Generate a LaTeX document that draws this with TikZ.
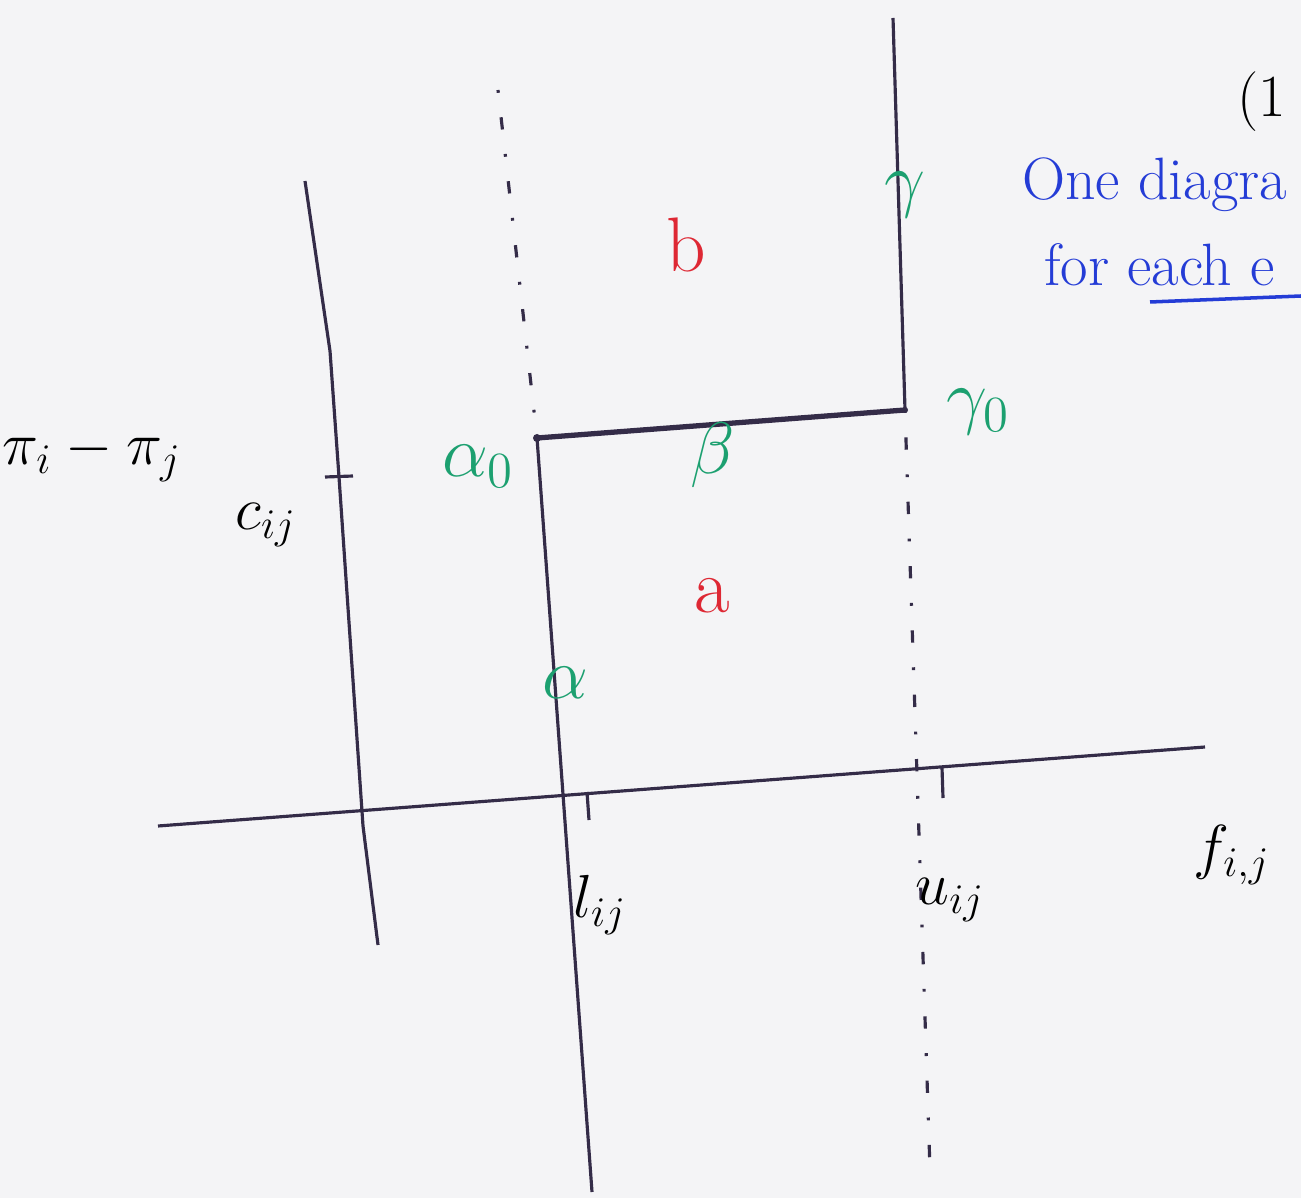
\documentclass[tikz,border=0pt]{standalone}
\usepackage{amsmath, amssymb}
\usetikzlibrary{positioning}
\definecolor{ink}{RGB}{52,44,72}
\definecolor{inkgreen}{RGB}{28,160,112}
\definecolor{inkred}{RGB}{222,40,52}
\definecolor{inkblue}{RGB}{36,60,214}
\definecolor{paper}{RGB}{244,244,246}
\begin{document}
\begin{tikzpicture}[x=0.01cm, y=-0.01cm,
  every node/.style={font=\fontsize{17}{20}\selectfont, inner sep=1pt},
  axisline/.style={ink, line width=0.9pt, line join=round},
  bound/.style={ink, line width=0.9pt},
  dotline/.style={ink, line width=0.9pt, dash pattern=on 0.8pt off 7pt on 3.5pt off 7pt},
  greenlbl/.style={text=inkgreen, font=\fontsize{20}{24}\selectfont},
  redlbl/.style={text=inkred, font=\fontsize{22}{26}\selectfont},
  bluelbl/.style={text=inkblue, font=\fontsize{17}{20}\selectfont}]

% Paper
\fill[paper] (0,0) rectangle (1301,1198);
\useasboundingbox (0,0) rectangle (1301,1198);
\clip (0,0) rectangle (1301,1198);

% Axes
\coordinate (xl) at (158,826);
\coordinate (xr) at (1205,747);
\coordinate (yt) at (305,181);
\coordinate (y1) at (330,351);
\coordinate (ct) at (339,477);
\coordinate (y2) at (363,826);
\coordinate (yb) at (378,945);
\draw[axisline] (xl) -- (xr);
\draw[axisline] (yt) -- (y1) -- (ct) -- (y2) -- (yb);
\coordinate (ct1) at (325,477);
\coordinate (ct2) at (353,476);
\draw[axisline] (ct1) -- (ct2);

% Lower bound l_ij and upper bound u_ij
\coordinate (ltop) at (498,90);
\coordinate (a0) at (537,438);
\coordinate (lbot) at (592,1192);
\coordinate (utop) at (893,18);
\coordinate (g0) at (905,410);
\coordinate (ubot) at (930,1170);
\draw[dotline] (ltop) -- (a0);
\draw[bound] (a0) -- (lbot);
\draw[bound] (utop) -- (g0);
\draw[dotline] (g0) -- (ubot);
\draw[ink, line width=1.5pt] (a0) -- (g0);
\fill[ink] (a0) circle (4);
\fill[ink] (g0) circle (3);

% Ticks on f axis
\coordinate (lt1) at (587,792);
\coordinate (lt2) at (589,820);
\coordinate (ut1) at (942,768);
\coordinate (ut2) at (943,798);
\draw[axisline] (lt1) -- (lt2);
\draw[axisline] (ut1) -- (ut2);

% Axis labels
\node (pilbl) at (92,455) {$\pi_i-\pi_j$};
\node (clbl) at (266,525) {$c_{ij}$};
\node (flbl) at (1232,855) {$f_{i,j}$};
\node (llbl) at (600,905) {$l_{ij}$};
\node (ulbl) at (950,900) {$u_{ij}$};

% Regions
\node[redlbl] (blbl) at (686,245) {b};
\node[redlbl] (albl) at (712,596) {a};

% Greek labels
\node[greenlbl] (beta) at (713,455) {$\beta$};
\node[greenlbl] (gam) at (905,195) {$\gamma$};
\node[greenlbl] (gam0) at (978,412) {$\gamma_0$};
\node[greenlbl] (alp0) at (478,466) {$\alpha_0$};
\node[greenlbl] (alp) at (565,683) {$\alpha$};

% Note
\node (pg) at (1262,102) {(1};
\node[bluelbl, anchor=west] (note1) at (1018,185) {One diagra};
\node[bluelbl, anchor=west] (note2) at (1040,265) {for each e};
\draw[inkblue, line width=1pt] (1150,302) -- (1301,296);
\end{tikzpicture}
\end{document}
